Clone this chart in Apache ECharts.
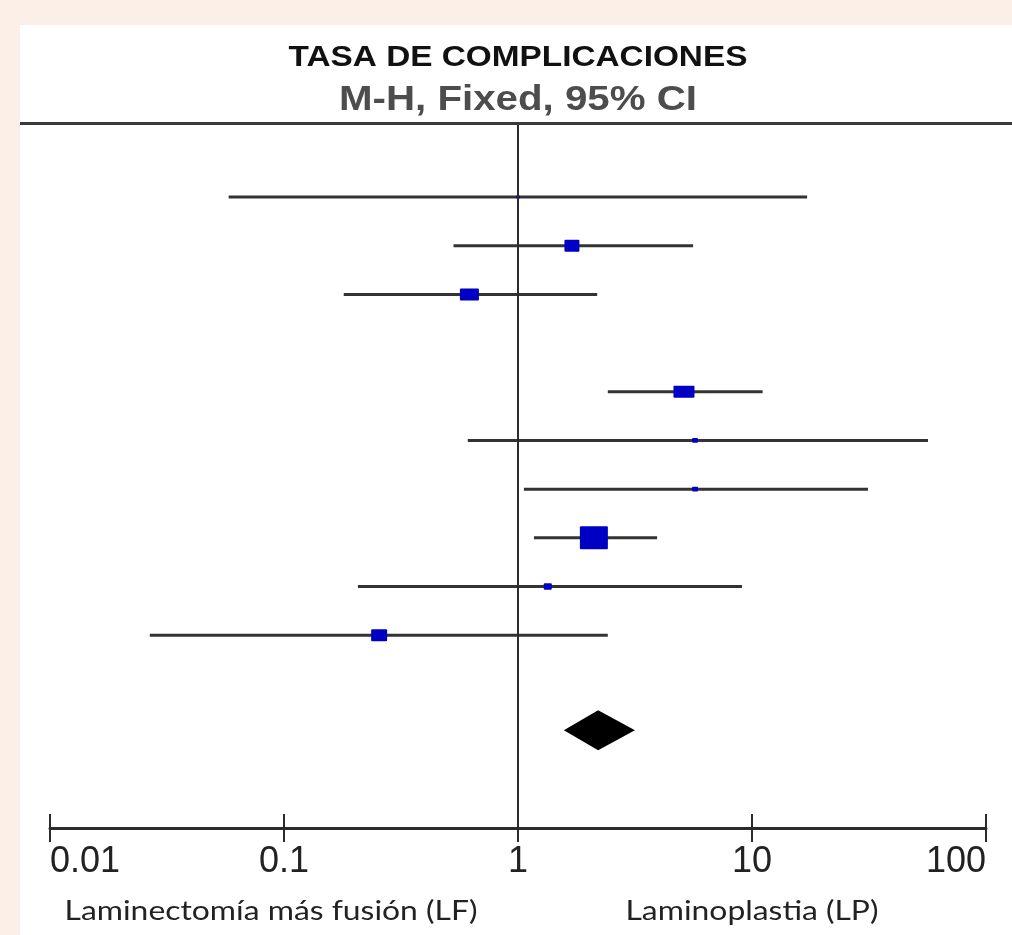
<!DOCTYPE html>
<html>
<head>
<meta charset="utf-8">
<script src="https://cdn.jsdelivr.net/npm/echarts@6/dist/echarts.min.js"></script>
<style>
html,body{margin:0;padding:0;background:#fcefe7;}
#chart{width:1012px;height:935px;}
</style>
</head>
<body>
<div id="chart"></div>
<script>
// ---- Data ----
const rowIndex   = [0, 1, 2, 3, 4, 5, 6, 7, 8, 9];
const oddsRatio  = [1.00, 1.70, 0.62, null, 5.12, 5.71, 5.71, 2.11, 1.34, 0.255];
const ciLower    = [0.058, 0.53, 0.18, null, 2.42, 0.61, 1.06, 1.17, 0.207, 0.0267];
const ciUpper    = [17.2, 5.6, 2.18, null, 11.1, 56.5, 31.3, 3.93, 9.06, 2.42];
const weightPct  = [0.7, 10.1, 16.3, null, 19.9, 1.6, 1.6, 35.3, 2.9, 11.5];
const totalRow   = 10.95;
const totalOR    = 2.20;
const totalLower = 1.57;
const totalUpper = 3.16;
const xTicks     = [0.01, 0.1, 1, 10, 100];
const titleText    = 'TASA DE COMPLICACIONES';
const subtitleText = 'M-H, Fixed, 95% CI';
const leftFavour   = 'Laminectomía más fusión (LF)';
const rightFavour  = 'Laminoplastia (LP)';

const studyData = [];
rowIndex.forEach((r, i) => {
  if (oddsRatio[i] != null) studyData.push([ciLower[i], ciUpper[i], oddsRatio[i], r, weightPct[i]]);
});
const totalData = [[totalLower, totalUpper, totalOR, totalRow]];

const maxW = Math.max(...weightPct.filter(v => v != null));

const chart = echarts.init(document.getElementById('chart'), null, {renderer: 'canvas'});
const axisColor = '#2b2b2b';
const option = {
  backgroundColor: '#fcefe7',
  animation: false,
  graphic: [
    {type: 'rect', z: -10, silent: true, shape: {x: 20, y: 25, width: 992, height: 910}, style: {fill: '#ffffff'}},
    {type: 'line', z: 10, silent: true, shape: {x1: 20, y1: 123.5, x2: 1012, y2: 123.5}, style: {stroke: '#3a3a3a', lineWidth: 3}},
    {type: 'text', x: 518, y: 58, scaleX: 1.15, silent: true,
     style: {text: titleText, font: 'bold 29px "Liberation Sans"', fill: '#111', textAlign: 'center', textVerticalAlign: 'middle'}},
    {type: 'text', x: 518, y: 100, scaleX: 1.15, silent: true,
     style: {text: subtitleText, font: 'bold 35px "Liberation Sans"', fill: '#4d4d4d', textAlign: 'center', textVerticalAlign: 'middle'}},
    {type: 'text', x: 271, y: 911, scaleX: 1.18, silent: true,
     style: {text: leftFavour, font: '27px Lato', fill: '#222', textAlign: 'center', textVerticalAlign: 'middle'}},
    {type: 'text', x: 752, y: 911, scaleX: 1.18, silent: true,
     style: {text: rightFavour, font: '27px Lato', fill: '#222', textAlign: 'center', textVerticalAlign: 'middle'}}
  ],
  grid: {left: 50, right: 26, top: 124, bottom: 107, containLabel: false},
  xAxis: [
    {type: 'log', logBase: 10, min: xTicks[0], max: xTicks[xTicks.length - 1], position: 'bottom',
     axisLine: {show: true, onZero: false, lineStyle: {color: axisColor, width: 3}},
     axisTick: {show: true, length: 14, lineStyle: {color: axisColor, width: 2}},
     axisLabel: {show: true, margin: 16, fontFamily: 'Liberation Sans', fontSize: 36, color: '#222',
                 alignMinLabel: 'left', alignMaxLabel: 'right',
                 formatter: v => String(v)},
     splitLine: {show: false}, minorTick: {show: false}},
    {type: 'log', logBase: 10, min: xTicks[0], max: xTicks[xTicks.length - 1], position: 'bottom',
     axisLine: {show: false, onZero: false},
     axisTick: {show: true, inside: true, length: 14, lineStyle: {color: axisColor, width: 2}},
     axisLabel: {show: false}, splitLine: {show: false}}
  ],
  yAxis: {type: 'value', inverse: true, min: -1.5, max: 12.96, show: false},
  series: [
    {
      type: 'custom', xAxisIndex: 0, data: studyData, encode: {x: [0, 1, 2], y: 3},
      renderItem: function (params, api) {
        const y = api.value(3);
        const pLo = api.coord([api.value(0), y]);
        const pHi = api.coord([api.value(1), y]);
        const pOr = api.coord([api.value(2), y]);
        const w = 28 * Math.sqrt(api.value(4) / maxW);
        const h = w > 24 ? w * 0.82 : Math.min(w * 0.8, 12);
        return {type: 'group', children: [
          {type: 'line', shape: {x1: pLo[0], y1: pLo[1], x2: pHi[0], y2: pHi[1]},
           style: {stroke: '#333333', lineWidth: 3}},
          {type: 'rect', shape: {x: pOr[0] - w / 2, y: pOr[1] - h / 2, width: w, height: h, r: 1},
           style: {fill: '#0000c4'}}
        ]};
      },
      markLine: {silent: true, symbol: ['none', 'none'], label: {show: false},
                 lineStyle: {color: '#2b2b2b', width: 2, type: 'solid'},
                 data: [{xAxis: 1}]}
    },
    {
      type: 'custom', xAxisIndex: 0, data: totalData, encode: {x: [0, 1, 2], y: 3},
      renderItem: function (params, api) {
        const y = api.value(3);
        const pLo = api.coord([api.value(0), y]);
        const pHi = api.coord([api.value(1), y]);
        const pOr = api.coord([api.value(2), y]);
        return {type: 'polygon', shape: {points: [[pLo[0], pLo[1]], [pOr[0], pOr[1] - 20], [pHi[0], pHi[1]], [pOr[0], pOr[1] + 20]]},
                style: {fill: '#000000'}};
      }
    }
  ]
};
chart.setOption(option);
</script>
</body>
</html>
